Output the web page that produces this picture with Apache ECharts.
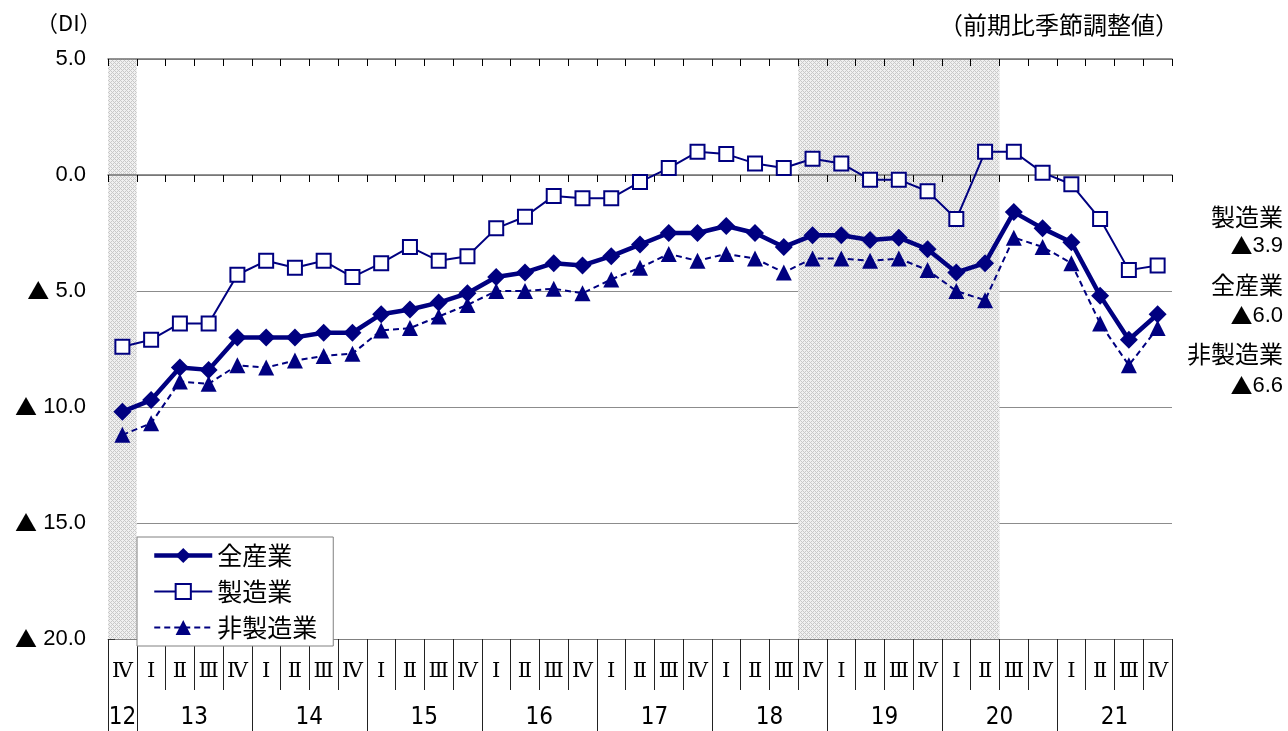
<!DOCTYPE html>
<html><head><meta charset="utf-8">
<script src="https://cdn.jsdelivr.net/npm/echarts@6/dist/echarts.min.js"></script>
<style>html,body{margin:0;padding:0;background:#fff}#c{width:1288px;height:731px}</style>
</head><body><div id="c"></div>
<script>
// ---- data ----
const categories = ['12Ⅳ','13Ⅰ','13Ⅱ','13Ⅲ','13Ⅳ','14Ⅰ','14Ⅱ','14Ⅲ','14Ⅳ','15Ⅰ','15Ⅱ','15Ⅲ','15Ⅳ','16Ⅰ','16Ⅱ','16Ⅲ','16Ⅳ','17Ⅰ','17Ⅱ','17Ⅲ','17Ⅳ','18Ⅰ','18Ⅱ','18Ⅲ','18Ⅳ','19Ⅰ','19Ⅱ','19Ⅲ','19Ⅳ','20Ⅰ','20Ⅱ','20Ⅲ','20Ⅳ','21Ⅰ','21Ⅱ','21Ⅲ','21Ⅳ'];
const allIndustries = [-10.2,-9.7,-8.3,-8.4,-7.0,-7.0,-7.0,-6.8,-6.8,-6.0,-5.8,-5.5,-5.1,-4.4,-4.2,-3.8,-3.9,-3.5,-3.0,-2.5,-2.5,-2.2,-2.5,-3.1,-2.6,-2.6,-2.8,-2.7,-3.2,-4.2,-3.8,-1.6,-2.3,-2.9,-5.2,-7.1,-6.0];
const manufacturing = [-7.4,-7.1,-6.4,-6.4,-4.3,-3.7,-4.0,-3.7,-4.4,-3.8,-3.1,-3.7,-3.5,-2.3,-1.8,-0.9,-1.0,-1.0,-0.3,0.3,1.0,0.9,0.5,0.3,0.7,0.5,-0.2,-0.2,-0.7,-1.9,1.0,1.0,0.1,-0.4,-1.9,-4.1,-3.9];
const nonManufacturing = [-11.2,-10.7,-8.9,-9.0,-8.2,-8.3,-8.0,-7.8,-7.7,-6.7,-6.6,-6.1,-5.6,-5.0,-5.0,-4.9,-5.1,-4.5,-4.0,-3.4,-3.7,-3.4,-3.6,-4.2,-3.6,-3.6,-3.7,-3.6,-4.1,-5.0,-5.4,-2.7,-3.1,-3.8,-6.4,-8.2,-6.6];
const seriesNames = ['全産業','製造業','非製造業'];
const shadedPeriods = [['12Ⅳ','12Ⅳ'],['18Ⅳ','20Ⅱ']];
const yMin = -20, yMax = 5, yStep = 5;
const unitLabel = '（DI）';
const noteLabel = '（前期比季節調整値）';

// ---- derived ----
const NAVY = '#000080';
const FONT = "'Liberation Sans', 'Noto Sans CJK JP', sans-serif";
const JFONT = "'Noto Sans CJK JP', sans-serif";
const yearGroups = [];
categories.forEach((c, i) => {
  const y = c.slice(0, 2);
  const last = yearGroups[yearGroups.length - 1];
  if (last && last.year === y) last.end = i + 1;
  else yearGroups.push({ year: y, start: i, end: i + 1 });
});
const yearBounds = [0].concat(yearGroups.map(g => g.end));
const yearCenters = yearGroups.map(g => (g.start + g.end) / 2);
const shadeData = shadedPeriods.map(p => [categories.indexOf(p[0]), categories.indexOf(p[1]) + 1, 0]);

const pc = document.createElement('canvas');
pc.width = 4; pc.height = 4;
const g = pc.getContext('2d');
g.fillStyle = '#f0f0f0'; g.fillRect(0, 0, 4, 4);
g.fillStyle = '#c8c8c8';
for (let x = 0; x < 4; x++) for (let y = 0; y < 4; y++) {
  if ((x + y) % 4 === 0 || ((x - y + 4) % 4 === 0)) g.fillRect(x, y, 1, 1);
}
const pattern = { image: pc, repeat: 'repeat' };

const fmtNeg = v => (v < 0 ? '{t|▲}' + Math.abs(v).toFixed(1) : v.toFixed(1));
const lastOf = a => a[a.length - 1];
const triRich = { t: { fontFamily: JFONT, fontSize: 22, fill: '#000' } };

const chart = echarts.init(document.getElementById('c'));
chart.setOption({
  animation: false,
  backgroundColor: '#fff',
  grid: { left: 108, right: 116, top: 59, bottom: 92 },
  legend: {
    data: [
      { name: seriesNames[0], lineStyle: { width: 4.5 } },
      { name: seriesNames[1], lineStyle: { width: 2 } },
      { name: seriesNames[2], lineStyle: { width: 2 } }
    ],
    orient: 'vertical',
    left: 137, top: 537,
    itemWidth: 58, itemHeight: 19, itemGap: 11,
    padding: [6, 16, 6, 15],
    backgroundColor: '#fff',
    borderColor: '#808080', borderWidth: 1,
    textStyle: { fontSize: 25, fontFamily: JFONT, color: '#000' }
  },
  xAxis: [
    { type: 'category', data: categories, boundaryGap: true, z: 3,
      axisLine: { onZero: true, lineStyle: { color: '#707070', width: 1.5 } },
      axisTick: { show: true, interval: 0, length: 7, lineStyle: { color: '#000' } },
      axisLabel: { show: false }, splitLine: { show: false } },
    { type: 'category', data: categories, boundaryGap: true, z: 3,
      axisLine: { onZero: true, lineStyle: { color: '#707070', width: 1.5 } },
      axisTick: { show: true, inside: true, interval: 0, length: 7, lineStyle: { color: '#000' } },
      axisLabel: { show: false }, splitLine: { show: false } },
    { type: 'category', data: categories, boundaryGap: true, position: 'bottom',
      axisLine: { onZero: false, show: true, lineStyle: { color: '#808080' } },
      axisTick: { show: true, interval: 0, length: 51, lineStyle: { color: '#222' } },
      axisLabel: { interval: 0, margin: 22, fontSize: 21, fontFamily: "'DejaVu Serif', 'Noto Sans CJK JP', serif", color: '#000',
        formatter: v => v.slice(2) },
      splitLine: { show: false } },
    { type: 'value', min: 0, max: categories.length, position: 'bottom',
      axisLine: { onZero: false, show: false },
      axisTick: { show: true, customValues: yearBounds, length: 92, lineStyle: { color: '#222' } },
      axisLabel: { customValues: yearCenters, margin: 67, fontSize: 24,
        fontFamily: "'Liberation Sans Narrow', 'DejaVu Sans Condensed', 'Liberation Sans', sans-serif", color: '#000',
        formatter: v => { const gr = yearGroups.find(q => Math.abs((q.start + q.end) / 2 - v) < 1e-6); return gr ? gr.year : ''; } },
      splitLine: { show: false } }
  ],
  yAxis: {
    type: 'value', min: yMin, max: yMax, interval: yStep,
    axisLine: { show: true, lineStyle: { color: '#808080' } },
    axisTick: { show: true, inside: true, length: 7, lineStyle: { color: '#333' } },
    axisLabel: { margin: 22, fontSize: 22, fontFamily: FONT, color: '#000', rich: triRich,
      formatter: v => (v < 0 ? '{t|▲} ' + Math.abs(v).toFixed(1) : v.toFixed(1)) },
    splitLine: { show: true, lineStyle: { color: '#8c8c8c', width: 1 } }
  },
  series: [
    { type: 'custom', name: 'shade', xAxisIndex: 3, yAxisIndex: 0, z: 1, silent: true,
      encode: { x: [0, 1], y: 2 },
      data: shadeData,
      renderItem: (params, api) => {
        const s = api.coord([api.value(0), yMax]);
        const e = api.coord([api.value(1), yMin]);
        return { type: 'rect', shape: { x: s[0], y: s[1], width: e[0] - s[0], height: e[1] - s[1] },
          style: { fill: pattern } };
      } },
    { type: 'line', name: seriesNames[0], data: allIndustries, xAxisIndex: 0, z: 4,
      symbol: 'diamond', symbolSize: 18,
      lineStyle: { color: NAVY, width: 4.5 },
      itemStyle: { color: NAVY } },
    { type: 'line', name: seriesNames[1], data: manufacturing, xAxisIndex: 0, z: 5,
      symbol: 'rect', symbolSize: 14,
      lineStyle: { color: NAVY, width: 2 },
      itemStyle: { color: '#fff', borderColor: NAVY, borderWidth: 2 } },
    { type: 'line', name: seriesNames[2], data: nonManufacturing, xAxisIndex: 0, z: 3,
      symbol: 'triangle', symbolSize: 16,
      lineStyle: { color: NAVY, width: 2, type: [6, 4] },
      itemStyle: { color: NAVY } }
  ],
  graphic: [
    { type: 'text', left: 36, top: 12, style: { text: unitLabel, fontSize: 22, fontFamily: JFONT, fill: '#000' } },
    { type: 'text', right: 109, top: 13, style: { text: noteLabel, fontSize: 24, fontFamily: JFONT, fill: '#000' } },
    { type: 'text', right: 5, top: 205, style: { text: seriesNames[1], fontSize: 24, fontFamily: JFONT, fill: '#000' } },
    { type: 'text', right: 5, top: 235, style: { text: fmtNeg(lastOf(manufacturing)), fontSize: 22, fontFamily: FONT, fill: '#000', rich: triRich } },
    { type: 'text', right: 5, top: 273, style: { text: seriesNames[0], fontSize: 24, fontFamily: JFONT, fill: '#000' } },
    { type: 'text', right: 5, top: 305, style: { text: fmtNeg(lastOf(allIndustries)), fontSize: 22, fontFamily: FONT, fill: '#000', rich: triRich } },
    { type: 'text', right: 5, top: 342, style: { text: seriesNames[2], fontSize: 24, fontFamily: JFONT, fill: '#000' } },
    { type: 'text', right: 5, top: 375, style: { text: fmtNeg(lastOf(nonManufacturing)), fontSize: 22, fontFamily: FONT, fill: '#000', rich: triRich } }
  ]
});
</script>
</body></html>
